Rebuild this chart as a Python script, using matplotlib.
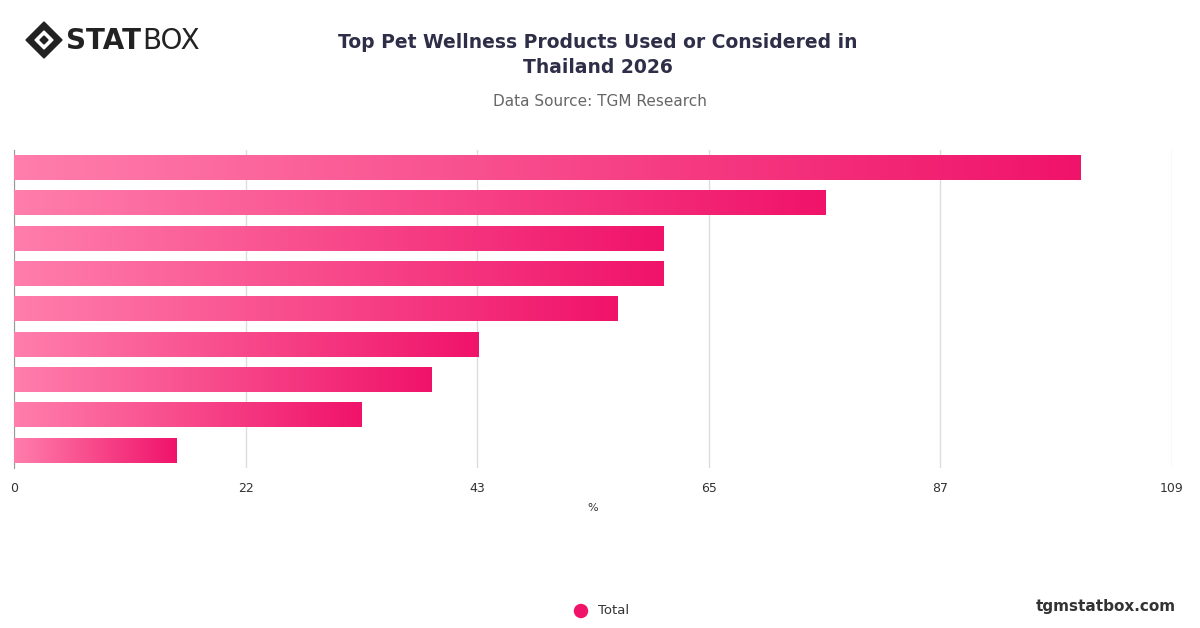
import matplotlib
matplotlib.use("Agg")
import matplotlib.pyplot as plt
import numpy as np
from matplotlib.colors import LinearSegmentedColormap
from matplotlib.patches import Polygon, Circle

values = [100.4, 76.4, 61.1, 61.1, 56.8, 43.7, 39.3, 32.7, 15.3]
tick_vals = [0, 21.8, 43.6, 65.4, 87.2, 109]
tick_labels = ["0", "22", "43", "65", "87", "109"]
series_name = "Total"

W, H = 1200, 628
fig = plt.figure(figsize=(W/100, H/100), dpi=100)
ax = fig.add_axes([14/W, 1-468/H, (1172-14)/W, (468-150)/H])
n = len(values)
cmap = LinearSegmentedColormap.from_list("g", ["#ff7eab", "#f0136a"])
grad = np.linspace(0, 1, 256).reshape(1, -1)
h = 0.7
for i, v in enumerate(values):
    ax.imshow(grad, cmap=cmap, aspect="auto", extent=[0, v, i + h/2, i - h/2], zorder=3)
ax.set_xlim(0, 109)
ax.set_ylim(n - 0.5, -0.5)
ax.set_xticks(tick_vals)
ax.set_xticklabels(tick_labels, fontsize=9, color="#333333")
ax.set_yticks([])
ax.tick_params(axis="x", length=0, pad=10)
ax.grid(axis="x", color="#dddddd", lw=1, zorder=0)
for s in ["top", "right", "bottom"]:
    ax.spines[s].set_visible(False)
ax.spines["left"].set_color("#999999")
ax.set_xlabel("%", fontsize=8, color="#333333", labelpad=6)

# overlay in pixel coords
ov = fig.add_axes([0, 0, 1, 1], zorder=-1)
ov.set_xlim(0, W); ov.set_ylim(H, 0); ov.axis("off")
ov.add_patch(Polygon([(26, 40), (44, 22), (62, 40), (44, 58)], closed=True, color="#222222"))
ov.add_patch(Polygon([(35, 40), (44, 31), (53, 40), (44, 49)], closed=True, color="white"))
ov.add_patch(Polygon([(40, 40), (44, 36), (48, 40), (44, 44)], closed=True, color="#222222"))
ov.text(66, 41, "STAT", ha="left", va="center", fontsize=20, weight="bold", color="#222222")
ov.text(142, 41, "BOX", ha="left", va="center", fontsize=20, color="#222222")
ov.text(598, 55, "Top Pet Wellness Products Used or Considered in\nThailand 2026",
        ha="center", va="center", fontsize=13.5, weight="bold", color="#2e2e48", linespacing=1.45)
ov.text(600, 101, "Data Source: TGM Research", ha="center", va="center", fontsize=11, color="#666666")
ov.add_patch(Circle((581, 611), 6.5, color="#f0136a"))
ov.text(598, 611, series_name, ha="left", va="center", fontsize=9.5, color="#333333")
ov.text(1176, 606, "tgmstatbox.com", ha="right", va="center", fontsize=11, weight="bold", color="#333333")
fig.savefig("out.png", dpi=100)
